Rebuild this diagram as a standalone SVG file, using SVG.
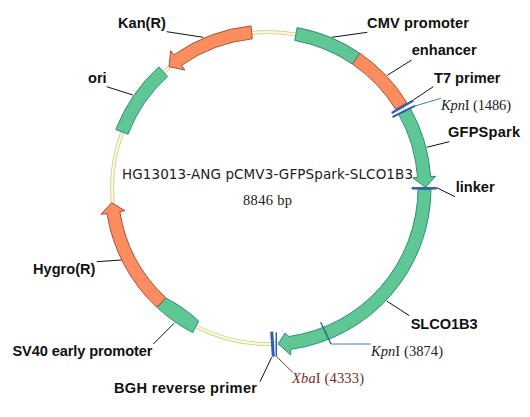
<svg xmlns="http://www.w3.org/2000/svg" width="530" height="417" viewBox="0 0 530 417">
<style>
.g{fill:#5fc796;stroke:#2c8f70;stroke-width:1}
.o{fill:#fb8d5f;stroke:#a5503a;stroke-width:1}
.l{font:bold 14.6px "Liberation Sans",Arial,sans-serif;fill:#111}
.c{fill:none;stroke:#111;stroke-width:1}
.s{font:14.5px "Liberation Serif","Times New Roman",serif;fill:#222}
.r{fill:#7a2a2a}
.i{font-style:italic}
</style>
<rect width="530" height="417" fill="#fff"/>
<g id="backbone" fill="none">
<circle cx="268" cy="188" r="156" stroke="#d6d296" stroke-width="4"/>
<circle cx="268" cy="188" r="156" stroke="#fdfbdc" stroke-width="2"/>
</g>
<g id="connectors">
<path class="c" d="M331.7 37.3L367.3 32.3M387.3 75.3L411.7 60M413.3 100L433.3 86.7M426.7 147.3L449.3 141.7M436.7 187.7L455 196.7M386.7 301L409.3 315.7M166.7 31.7L203.3 37.3M106.7 86.7L132.7 95M96.7 261.7L121.7 260M153.3 344L174 323.3M271.7 357.3L260 381.7"/>
<path fill="none" stroke="#3f7fa8" stroke-width="1" d="M415 106L441 98.3M331 344H370.7"/>
<path fill="none" stroke="#8a2f2f" stroke-width="1" d="M276.7 356.7L292.7 372.3"/>
</g>
<g id="cmv-promoter"><path class="g" d="M297.1 27.6A163 163 0 0 1 359.9 53.3L352.5 64.1A150 150 0 0 0 294.8 40.4Z"/><text class="l" x="367" y="28" textLength="102">CMV promoter</text></g>
<g id="enhancer"><path class="o" d="M359.9 53.3A163 163 0 0 1 406.8 102.6L395.8 109.4A150 150 0 0 0 352.5 64.1Z"/><text class="l" x="411.7" y="55">enhancer</text></g>
<g id="gfpspark"><path class="g" d="M409.9 107.7A163 163 0 0 1 430.6 176.6L435.6 176.3L425.7 187.3L412.7 177.9L417.6 177.5A150 150 0 0 0 398.6 114.1Z"/><text class="l" x="448" y="137" textLength="72">GFPSpark</text></g>
<g id="slco1b3"><path class="g" d="M431 189.4A163 163 0 0 1 290.7 349.4L290.7 355L278.3 344L285 333L288.9 336.5A150 150 0 0 0 418 189.3Z"/><text class="l" x="410.7" y="328.7" textLength="67">SLCO1B3</text></g>
<g id="sv40"><path class="g" d="M192.7 332.6L198.7 321A150 150 0 0 0 166.1 298.1L157.3 307.6A163 163 0 0 0 192.7 332.6Z"/><text class="l" x="12.5" y="355.7" textLength="140">SV40 early promoter</text></g>
<g id="hygro"><path class="o" d="M156.8 307.2A163 163 0 0 1 107 213.5L101 214.3L111.7 202.7L125 210.7L119.8 211.5A150 150 0 0 0 165.7 297.7Z"/><text class="l" x="33" y="274">Hygro(R)</text></g>
<g id="ori"><path class="g" d="M115.8 129.6A163 163 0 0 1 158.9 66.9L167.6 76.5A150 150 0 0 0 128 134.2Z"/><text class="l" x="88" y="83">ori</text></g>
<g id="kan"><path class="o" d="M251 25.9A163 163 0 0 0 174 54.8L170.7 50.7L169 66.7L185 70L181.5 65.4A150 150 0 0 1 252.3 38.8Z"/><text class="l" x="118" y="28">Kan(R)</text></g>
<g id="t7-primer"><path fill="none" stroke="#2f5fb0" stroke-width="2.5" d="M391.7 113L413.3 100.5"/><path fill="none" stroke="#2f5fb0" stroke-width="2" d="M392.5 117L415 105.8"/><text class="l" x="434" y="82.7">T7 primer</text></g>
<g id="linker"><path fill="none" stroke="#2f5fb0" stroke-width="2.5" d="M411.7 188.3H436.7"/><text class="l" x="455.7" y="191.7">linker</text></g>
<g id="kpni-3874"><path fill="none" stroke="#2a6f8a" stroke-width="1.5" d="M320.7 322.3L331 344"/><text class="s" x="371" y="356" textLength="72"><tspan class="i">Kpn</tspan>I (3874)</text></g>
<g id="bgh-primer"><path fill="none" stroke="#2f5fb0" stroke-width="3" d="M271.7 331.7L273.3 356.7"/><text class="l" x="114" y="393.3" textLength="143">BGH reverse primer</text></g>
<g id="xbai"><path fill="none" stroke="#2f5fb0" stroke-width="1.5" d="M276.3 332.3V356.7"/><text class="s r" x="292" y="383" textLength="72"><tspan class="i">Xba</tspan>I (4333)</text></g>
<g id="kpni-1486"><text class="s" x="441" y="110" textLength="70"><tspan class="i">Kpn</tspan>I (1486)</text></g>
<g id="title"><text x="122" y="179" font-family="'DejaVu Sans',Verdana,sans-serif" font-size="13.5" fill="#222" textLength="291">HG13013-ANG pCMV3-GFPSpark-SLCO1B3</text><text class="s" x="243" y="205" textLength="49">8846 bp</text></g>
</svg>
